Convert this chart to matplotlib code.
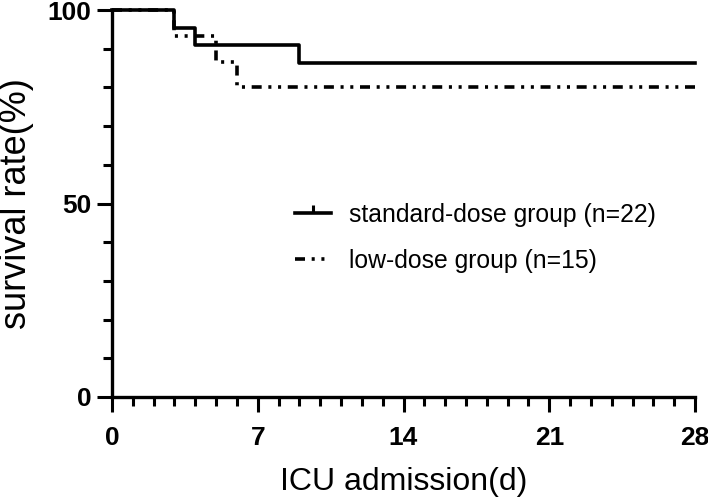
import matplotlib
matplotlib.use("Agg")
import matplotlib.pyplot as plt
from matplotlib.lines import Line2D
from matplotlib.ticker import MultipleLocator

plt.rcParams['lines.scale_dashes'] = False

# Data
std_days = [0, 3, 4, 9, 28]
std_surv = [100, 95.45, 90.91, 86.36, 86.36]
low_days = [0, 3, 5, 6, 28]
low_surv = [100, 93.33, 86.67, 80.0, 80.0]
std_label = "standard-dose group (n=22)"
low_label = "low-dose group (n=15)"
x_ticks = [0, 7, 14, 21, 28]
y_ticks = [0, 50, 100]

fig = plt.figure(figsize=(7.08, 5.0), dpi=100)
ax = fig.add_axes([112/708, 1-397/500, (695-112)/708, (397-10)/500])

lw = 2.6
dash = (0, (7.2, 4.8, 2.2, 4.8, 2.2, 4.8))
ax.step(low_days, low_surv, where='post', color='black', lw=lw, linestyle=dash,
        clip_on=False, dash_capstyle='butt')
ax.step(std_days, std_surv, where='post', color='black', lw=lw, clip_on=False)

ax.set_xlim(0, 28)
ax.set_ylim(0, 100)
ax.set_xticks(x_ticks)
ax.set_yticks(y_ticks)
ax.xaxis.set_minor_locator(MultipleLocator(1))
ax.yaxis.set_minor_locator(MultipleLocator(10))

for s in ['top', 'right']:
    ax.spines[s].set_visible(False)
for s in ['left', 'bottom']:
    ax.spines[s].set_linewidth(2.4)

ax.tick_params(which='major', length=10.8, width=2.2, direction='out')
ax.tick_params(which='minor', length=6.5, width=2.2, direction='out')
ax.tick_params(axis='x', which='major', pad=10)
ax.tick_params(axis='y', which='major', pad=4)
for lab in ax.get_xticklabels() + ax.get_yticklabels():
    lab.set_fontfamily('Liberation Sans')
    lab.set_fontweight('bold')
    lab.set_fontsize(19)

ax.set_xlabel("ICU admission(d)", fontsize=23, family='Liberation Sans', labelpad=12)
ax.set_ylabel("survival rate(%)", fontsize=26, family='Liberation Sans', labelpad=10)

h1 = Line2D([], [], color='black', lw=lw, marker=2, markersize=6, markeredgewidth=2.2)
h2 = Line2D([], [], color='black', lw=lw, linestyle=dash, dash_capstyle='butt')
leg = ax.legend([h1, h2], [std_label, low_label], loc='upper left',
                bbox_to_anchor=(295/708, 1-203/500), bbox_transform=fig.transFigure,
                frameon=False, borderpad=0, borderaxespad=0, handlelength=1.45,
                handletextpad=0.72, labelspacing=0.875,
                prop={'family': 'Liberation Sans', 'size': 17.8})

fig.savefig("out.png", dpi=100)
